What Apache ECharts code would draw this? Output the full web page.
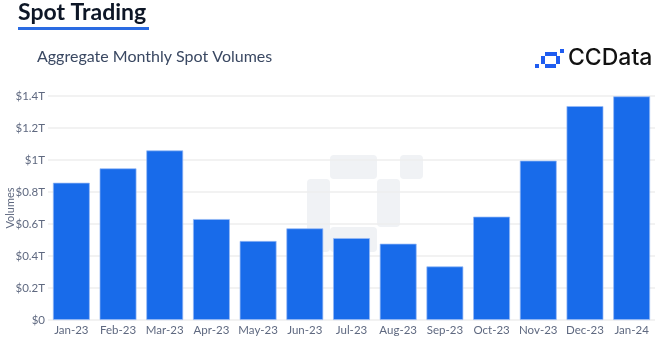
<!DOCTYPE html>
<html>
<head>
<meta charset="utf-8">
<script src="https://cdn.jsdelivr.net/npm/echarts@6/dist/echarts.min.js"></script>
<style>
html,body{margin:0;padding:0;background:#fff;}
#chart{width:670px;height:345px;}
</style>
</head>
<body>
<div id="chart"></div>
<script>
const categories = ["Jan-23","Feb-23","Mar-23","Apr-23","May-23","Jun-23","Jul-23","Aug-23","Sep-23","Oct-23","Nov-23","Dec-23","Jan-24"];
const volumes = [0.858, 0.948, 1.06, 0.631, 0.494, 0.573, 0.512, 0.477, 0.335, 0.646, 0.996, 1.337, 1.398];
const yTicks = { min: 0, max: 1.4, interval: 0.2 };

const chart = echarts.init(document.getElementById('chart'), null, {renderer: 'canvas'});
const labelColor = '#5f6980';
function fmt(v){
  const n = parseFloat(v.toFixed(1));
  return n === 0 ? '$0' : '$' + n + 'T';
}
const wm = 'rgba(195,202,214,0.25)';
chart.setOption({
  animation: false,
  backgroundColor: '#fff',
  grid: { left: 48, right: 15, top: 96, bottom: 25, containLabel: false, outerBoundsMode: 'none' },
  xAxis: {
    type: 'category',
    data: categories,
    axisLine: { show: false },
    axisTick: { show: false },
    axisLabel: { interval: 0, color: labelColor, fontFamily: 'Lato', fontSize: 11.5, margin: 4 }
  },
  yAxis: {
    type: 'value',
    min: yTicks.min, max: yTicks.max, interval: yTicks.interval,
    name: 'Volumes',
    nameLocation: 'middle',
    nameGap: 32,
    nameMoveOverlap: false,
    nameTextStyle: { color: labelColor, fontFamily: 'Lato', fontSize: 11 },
    axisLine: { show: false },
    axisTick: { show: false },
    axisLabel: { color: labelColor, fontFamily: 'Lato', fontSize: 11.5, margin: 3, formatter: fmt },
    splitLine: { lineStyle: { color: '#eeeeee', width: 1.5 } }
  },
  series: [{
    type: 'bar',
    data: volumes,
    barWidth: '79%',
    z: 2,
    itemStyle: { color: '#186BEA', borderColor: 'rgba(150,185,245,0.9)', borderWidth: 0.8 }
  }],
  graphic: [
    // watermark
    { type: 'rect', z: -1, silent: true, shape: { x: 330, y: 155, width: 47, height: 24, r: 4 }, style: { fill: wm } },
    { type: 'rect', z: -1, silent: true, shape: { x: 400, y: 155, width: 23, height: 24, r: 4 }, style: { fill: wm } },
    { type: 'rect', z: -1, silent: true, shape: { x: 307, y: 179, width: 23, height: 73, r: 4 }, style: { fill: wm } },
    { type: 'rect', z: -1, silent: true, shape: { x: 377, y: 179, width: 23, height: 48, r: 4 }, style: { fill: wm } },
    { type: 'rect', z: -1, silent: true, shape: { x: 330, y: 227, width: 47, height: 25, r: 4 }, style: { fill: wm } },
    // title
    { type: 'text', left: 18, top: 1, style: { text: 'Spot Trading', fill: '#0d1626', font: 'bold 23px Lato' } },
    { type: 'rect', shape: { x: 18, y: 27, width: 131, height: 3 }, style: { fill: '#2a6be2' } },
    { type: 'text', left: 37, top: 49, style: { text: 'Aggregate Monthly Spot Volumes', fill: '#3a4862', font: '16px Lato' } },
    // logo
    { type: 'rect', shape: { x: 535, y: 64, width: 4, height: 4 }, style: { fill: '#1f5cf0' } },
    { type: 'rect', shape: { x: 541, y: 56, width: 4, height: 8 }, style: { fill: '#1f5cf0' } },
    { type: 'rect', shape: { x: 545, y: 52, width: 12, height: 4 }, style: { fill: '#1f5cf0' } },
    { type: 'rect', shape: { x: 556, y: 56, width: 4, height: 8 }, style: { fill: '#1f5cf0' } },
    { type: 'rect', shape: { x: 545, y: 64, width: 11, height: 4 }, style: { fill: '#1f5cf0' } },
    { type: 'rect', shape: { x: 560, y: 49, width: 4, height: 4 }, style: { fill: '#1f5cf0' } },
    { type: 'text', left: 568, top: 47, style: { text: 'CCData', fill: '#111111', font: '500 23px Inter' } }
  ]
});
</script>
</body>
</html>
